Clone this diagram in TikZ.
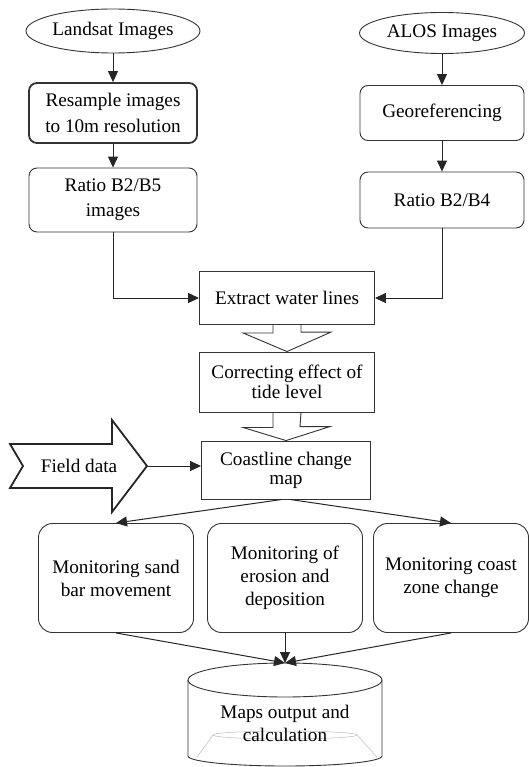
\documentclass[tikz,border=0pt]{standalone}
\usepackage{fontspec}
\setmainfont{Liberation Serif}
\usetikzlibrary{arrows.meta, shapes.geometric}
\tikzset{
  flowbox/.style={draw=black!80, rounded corners=8pt, align=center, inner sep=2pt,
                  line width=0.9pt, font=\fontsize{19.2}{22}\selectfont},
  sourcebox/.style={flowbox, ellipse, sharp corners, inner sep=0pt},
  plainbox/.style={flowbox, sharp corners},
  monitorbox/.style={flowbox, rounded corners=14pt, minimum width=155pt, minimum height=109pt,
                     font=\fontsize{19.2}{23}\selectfont},
  textlabel/.style={align=center, font=\fontsize{19.2}{23}\selectfont},
  thickborder/.style={line width=1.8pt},
  flowarrow/.style={-{Triangle[length=11pt,width=10pt]}, line width=1pt, black!85},
  hollowarrow/.style={draw=black!80, line width=0.9pt, line join=miter}
}

\begin{document}
\begin{tikzpicture}[x=1pt, y=-1pt]
\useasboundingbox (0,0) rectangle (529,767);

% Image sources
\node[sourcebox, minimum width=174pt, minimum height=44pt] (landsat) at (113,31) {Landsat Images};
\node[sourcebox, minimum width=165pt, minimum height=41pt] (alos) at (442,33) {ALOS Images};

% Preprocessing
\node[flowbox, thickborder, minimum width=168pt, minimum height=60pt,
      font=\fontsize{19.2}{26}\selectfont] (resample) at (113,113) {Resample images\\to 10m resolution};
\node[flowbox, minimum width=168pt, minimum height=64pt,
      font=\fontsize{19.2}{25}\selectfont] (ratiofive) at (113,200) {Ratio B2/B5\\images};
\node[flowbox, minimum width=164pt, minimum height=55pt] (georef) at (442,113) {Georeferencing};
\node[flowbox, minimum width=164pt, minimum height=56pt] (ratiofour) at (442,200) {Ratio B2/B4};

\draw[flowarrow] (landsat) -- (resample);
\draw[flowarrow] (resample) -- (ratiofive);
\draw[flowarrow] (alos) -- (georef);
\draw[flowarrow] (georef) -- (ratiofour);

% Water lines
\node[plainbox, minimum width=175pt, minimum height=53pt] (extract) at (287,298) {Extract water lines};
\node[plainbox, minimum width=175pt, minimum height=60pt,
      font=\fontsize{19.2}{20}\selectfont] (tide) at (287,382) {Correcting effect of\\tide level};
\node[plainbox, minimum width=169pt, minimum height=58pt,
      font=\fontsize{19.2}{19}\selectfont] (coast) at (286,470) {Coastline change\\map};

\draw[flowarrow] (ratiofive.south) |- (extract.west);
\draw[flowarrow] (ratiofour.south) |- (extract.east);

\draw[hollowarrow] ([xshift=-14pt]extract.south) -- ++(0,8) -- ++(-30,0) -- (tide.north)
  -- ++(44,-19.5) -- ++(-30,0) -- ([xshift=14pt]extract.south);
\draw[hollowarrow] ([xshift=-14pt]tide.south) -- ++(0,15) -- ++(-30,0) -- (coast.north)
  -- ++(44,-14) -- ++(-30,0) -- ([xshift=14pt]tide.south);

% Field data
\draw[draw=black!85, thickborder, line join=miter]
  (10,444) -- (112,444) -- (112,420) -- (147,466) -- (112,512) -- (112,488) -- (10,488) -- (23,466) -- cycle;
\node[textlabel] (field) at (79,466) {Field data};
\coordinate (fieldtip) at (147,466);
\draw[flowarrow] (fieldtip) -- (fieldtip -| coast.west);

% Monitoring
\node[monitorbox] (sandbar) at (116,578) {Monitoring sand\\bar movement};
\node[monitorbox] (erosion) at (285,578) {Monitoring of\\erosion and\\deposition};
\node[monitorbox] (coastzone) at (451,578) {Monitoring coast\\zone change};

\draw[flowarrow] ([xshift=-4pt]coast.south) -- (sandbar.north);
\draw[flowarrow] ([xshift=4pt]coast.south) -- (coastzone.north);

% Output
\draw[draw=black!80, line width=0.9pt] (188,680) -- (188,756)
  arc[start angle=180, end angle=0, x radius=97, y radius=10] -- (382,680);
\draw[draw=black!80, line width=0.9pt] (285,680) ellipse[x radius=97, y radius=17];
\draw[gray!55, line width=0.5pt] (197,757) -- (213,735) (357,735) -- (377,757)
  (285,735) ellipse[x radius=72, y radius=4];
\node[textlabel] (maps) at (285,723) {Maps output and\\calculation};
\coordinate (mapstop) at (285,663);

\draw[flowarrow] (sandbar.south) -- (mapstop);
\draw[flowarrow] (erosion.south) -- (mapstop);
\draw[flowarrow] (coastzone.south) -- (mapstop);

\end{tikzpicture}
\end{document}
